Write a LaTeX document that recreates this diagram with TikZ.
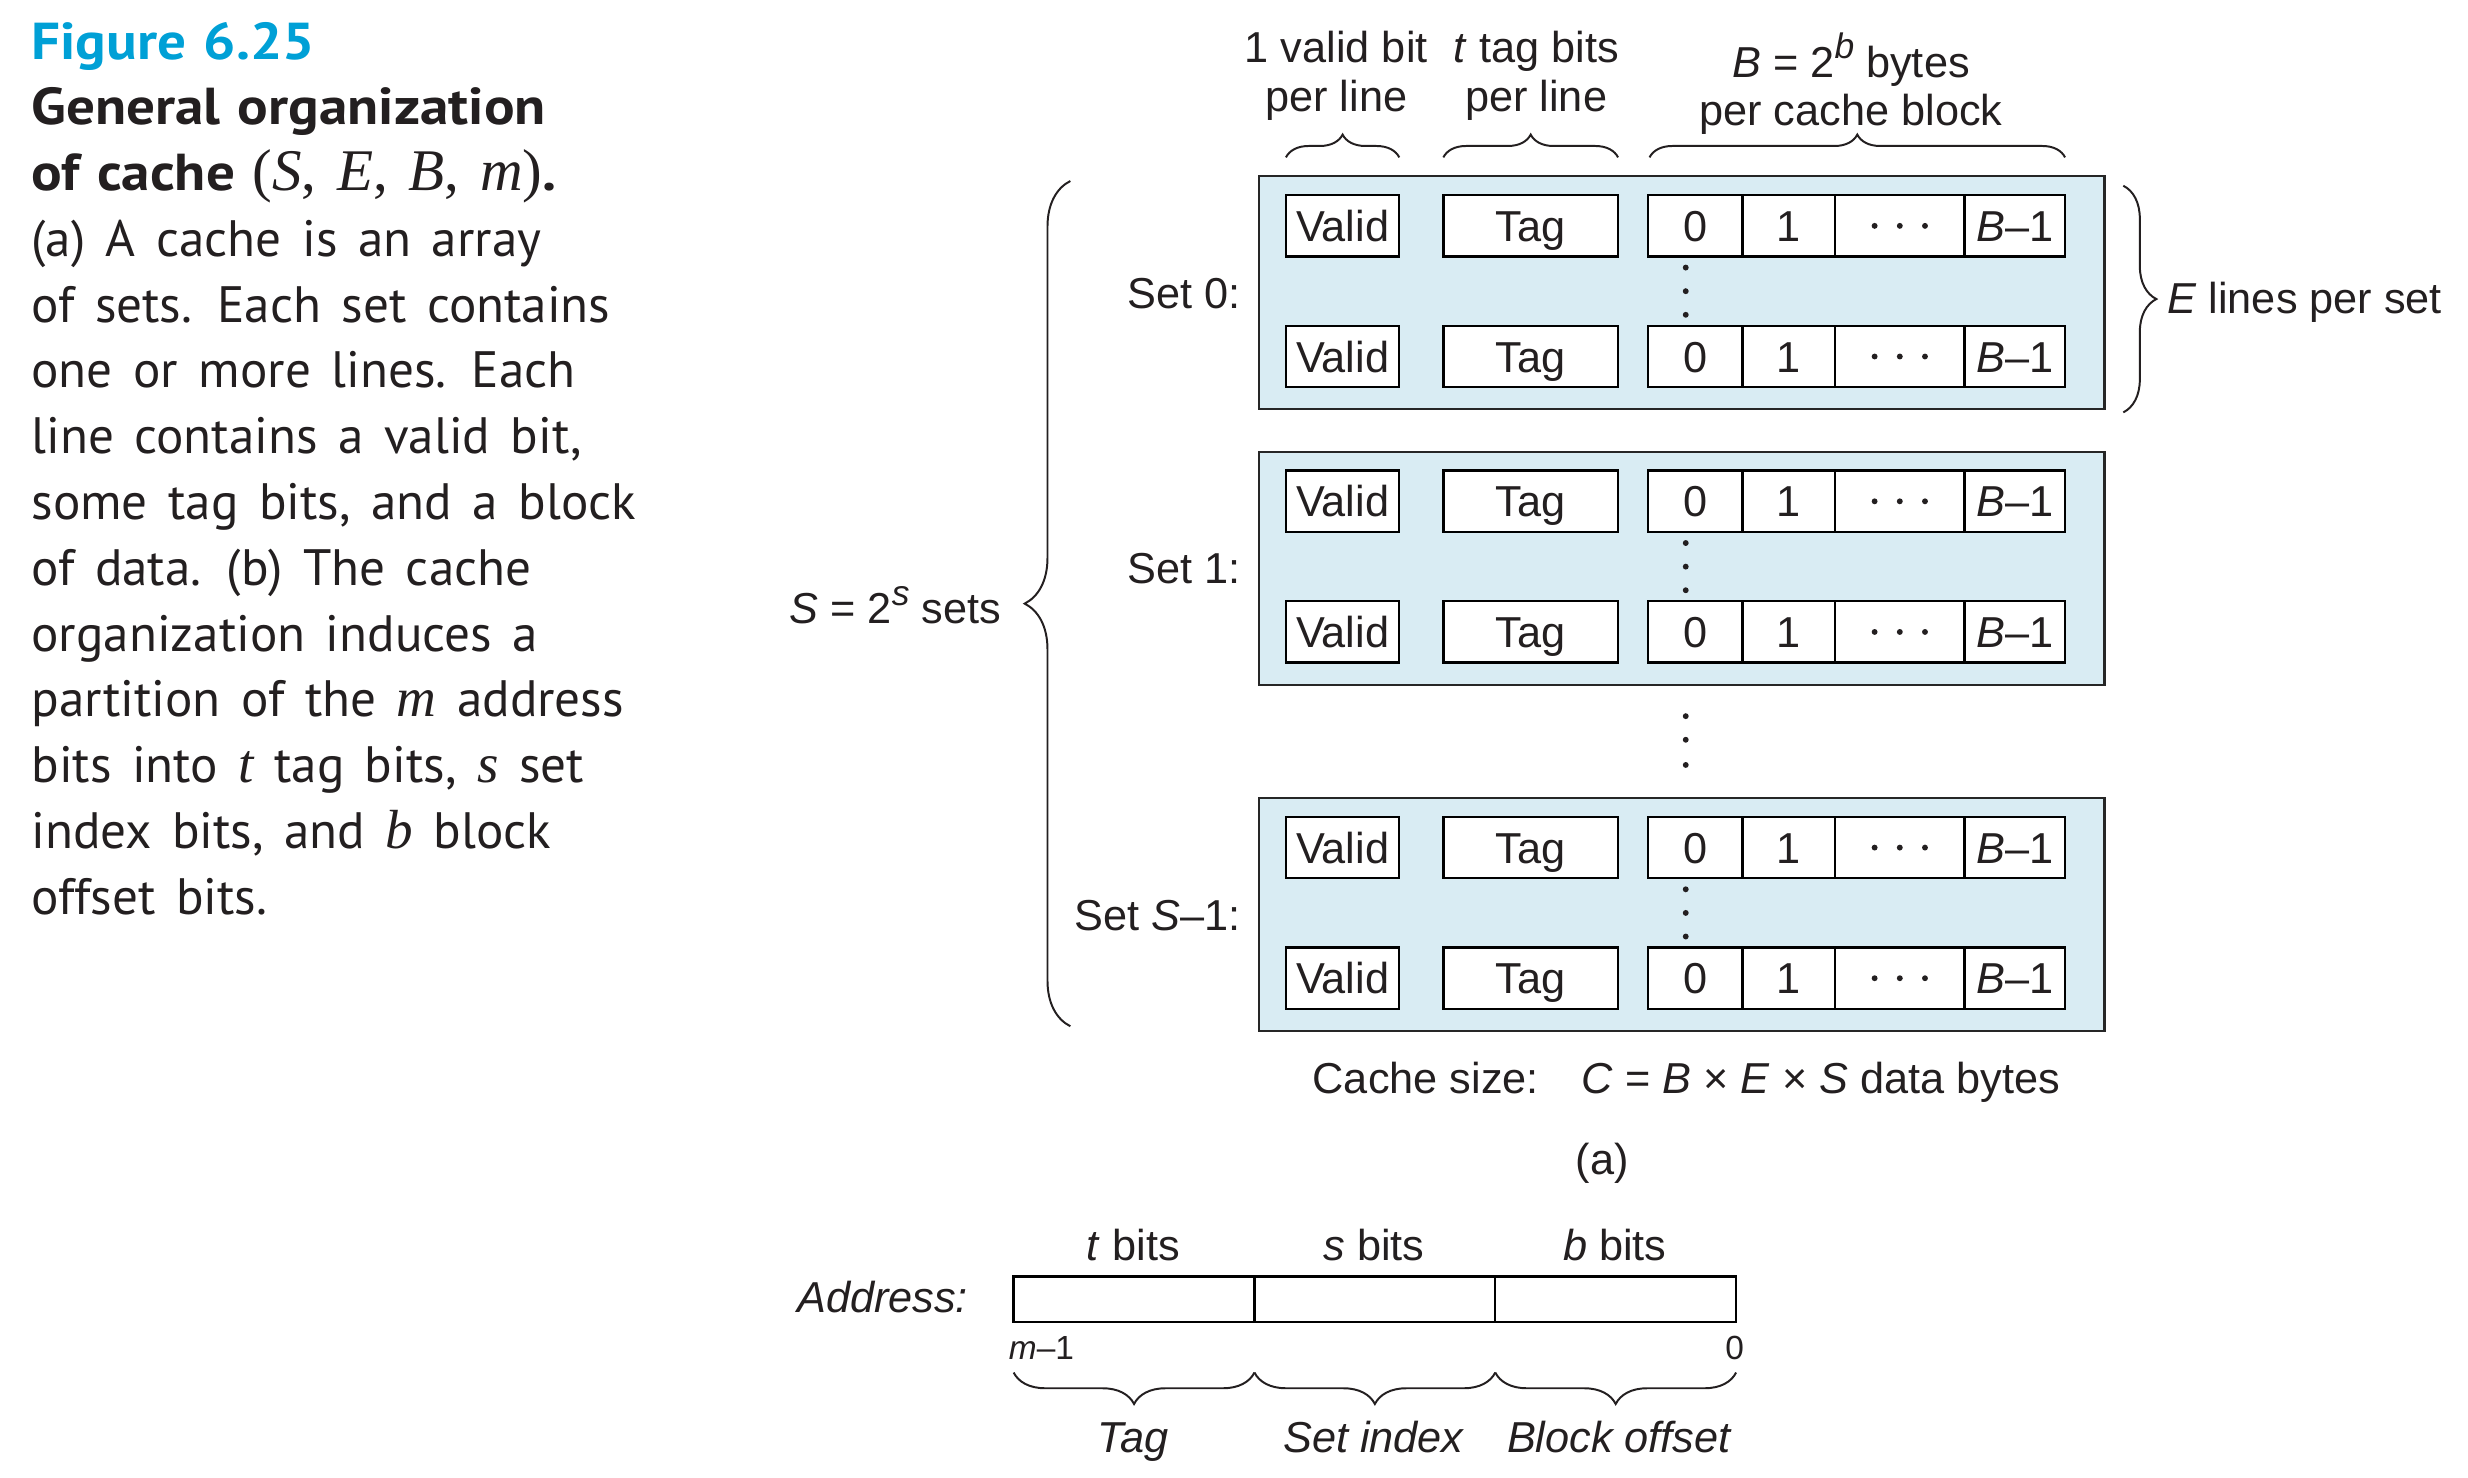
\documentclass[tikz,border=0pt]{standalone}
\usepackage{fontspec}
\setmainfont{Liberation Sans}
\newfontfamily\capfont[WordSpace=1.5]{PT Sans}
\newfontfamily\capboldfam[FakeStretch=1.1,WordSpace=1.2]{PT Sans}
\newfontfamily\serifit[WordSpace=1.4]{Liberation Serif}
\usetikzlibrary{decorations.pathreplacing}
\definecolor{setfill}{RGB}{217,236,243}
\definecolor{figcyan}{RGB}{0,160,214}
\definecolor{ink}{RGB}{35,31,32}
\newcommand{\supit}[1]{\raisebox{0.8ex}{\fontsize{9}{9}\selectfont\textit{#1}}}
\begin{document}
\begin{tikzpicture}[x=0.4pt,y=-0.4pt,
  every node/.style={inner sep=0pt, outer sep=0pt, text=ink},
  lbl/.style={font=\fontsize{11}{13}\selectfont},
  cellt/.style={lbl, text height=7.9pt, text depth=0pt, anchor=center},
  captxt/.style={font=\capfont\fontsize{13}{16}\selectfont, anchor=base west},
  captbold/.style={font=\capboldfam\bfseries\fontsize{13.2}{16}\selectfont, anchor=base west},
  cellline/.style={draw=black, line width=0.6pt, fill=white},
  setline/.style={draw=black!85, line width=0.6pt, fill=setfill},
  bracedec/.style={decorate, decoration={brace, amplitude=#1}, line width=0.5pt, draw=ink},
  dotf/.style={fill=ink},
]
\useasboundingbox (0,0) rectangle (1568,939);

% ---------- caption ----------
\node[captbold, text=figcyan] (fig) at (20,37.5) {Figure 6.25};
\node[captbold] (c1) at (20,79.3) {General organization};
\node[captbold] (c2) at (20,121.1) {of cache {\serifit\mdseries\fontsize{15}{16}\selectfont(\textit{S}, \textit{E}, \textit{B}, \textit{m})}.};
\node[captxt] (c3) at (20,162.9) {(a) A cache is an array};
\node[captxt] (c4) at (20,204.7) {of sets. Each set contains};
\node[captxt] (c5) at (20,246.5) {one or more lines. Each};
\node[captxt] (c6) at (20,288.3) {line contains a valid bit,};
\node[captxt] (c7) at (20,330.1) {some tag bits, and a block};
\node[captxt] (c8) at (20,371.9) {of data. (b) The cache};
\node[captxt] (c9) at (20,413.7) {organization induces a};
\node[captxt] (c10) at (20,455.5) {partition of the {\serifit\itshape\fontsize{14}{16}\selectfont m} address};
\node[captxt] (c11) at (20,497.3) {bits into {\serifit\itshape\fontsize{14}{16}\selectfont t} tag bits, {\serifit\itshape\fontsize{14}{16}\selectfont s} set};
\node[captxt] (c12) at (20,539.1) {index bits, and {\serifit\itshape\fontsize{14}{16}\selectfont b} block};
\node[captxt] (c13) at (20,580.9) {offset bits.};

% ---------- sets ----------
\foreach \ty/\nm/\lab in {112/sa/{Set 0:},287/sb/{Set 1:},507/sc/{Set \textit{S}–1:}} {
  \draw[setline] (800,\ty) rectangle (1337,\ty+148);
  \node[lbl, anchor=base east] (\nm lab) at (788,\ty+84) {\lab};
  \foreach \r/\rn in {12/a,95/b} {
    \draw[cellline] (817,\ty+\r) rectangle (889,\ty+\r+39);
    \draw[cellline] (917,\ty+\r) rectangle (1028,\ty+\r+39);
    \draw[cellline] (1047,\ty+\r) rectangle (1312,\ty+\r+39);
    \draw[line width=0.6pt] (1107,\ty+\r) -- (1107,\ty+\r+39)
                            (1166,\ty+\r) -- (1166,\ty+\r+39)
                            (1248,\ty+\r) -- (1248,\ty+\r+39);
    \node[cellt] (\nm\rn v) at (853,\ty+\r+19.5) {Valid};
    \node[cellt] (\nm\rn t) at (972.5,\ty+\r+19.5) {Tag};
    \node[cellt] (\nm\rn z) at (1077,\ty+\r+19.5) {0};
    \node[cellt] (\nm\rn o) at (1136.5,\ty+\r+19.5) {1};
    \node[cellt] (\nm\rn l) at (1280,\ty+\r+19.5) {\textit{B}–1};
    \foreach \dx in {-16,0,16}
      \fill[dotf] (1207+\dx,\ty+\r+19.5) circle[radius=0.75pt];
  }
  \foreach \dy in {58,73,88}
    \fill[dotf] (1071,\ty+\dy) circle[radius=0.75pt];
}
% dots between sets
\foreach \yy in {455,470,486}
  \fill[dotf] (1071,\yy) circle[radius=0.75pt];

% ---------- top braces and labels ----------
\draw[bracedec=5.8pt] (817,100) -- (889,100);
\draw[bracedec=5.8pt] (917,100) -- (1028,100);
\draw[bracedec=5.8pt] (1048,100) -- (1312,100);
\node[lbl, anchor=base] (vb1) at (849,40) {1 valid bit};
\node[lbl, anchor=base] (vb2) at (849,71) {per line};
\node[lbl, anchor=base] (tb1) at (976,40) {\textit{t} tag bits};
\node[lbl, anchor=base] (tb2) at (976,71) {per line};
\node[lbl, anchor=base] (bb1) at (1176,49) {\textit{B} = 2\supit{b} bytes};
\node[lbl, anchor=base] (bb2) at (1176,80) {per cache block};

% ---------- side braces ----------
\draw[bracedec=8.4pt] (1349,118) -- (1349,262);
\node[lbl, anchor=base west] (elines) at (1377,199) {\textit{E} lines per set};
\draw[bracedec=11.6pt] (680,652) -- (680,115);
\node[lbl, anchor=base east] (ssets) at (636,396) {\textit{S} = 2\supit{s} sets};

% ---------- cache size ----------
\node[lbl, anchor=base west] (csize) at (834,695) {Cache size:};
\node[lbl, anchor=base west] (cform) at (1005,695) {\textit{C} = \textit{B} × \textit{E} × \textit{S} data bytes};
\node[lbl, anchor=base] (capa) at (1018,746) {(a)};

% ---------- address ----------
\draw[line width=0.6pt, draw=black] (644,811) rectangle (1103,840);
\draw[line width=0.6pt] (797,811) -- (797,840) (950,811) -- (950,840);
\node[lbl, anchor=base east] (addr) at (615,834) {\textit{Address:}};
\node[lbl, anchor=base] (tbits) at (720,801) {\textit{t} bits};
\node[lbl, anchor=base] (sbits) at (873,801) {\textit{s} bits};
\node[lbl, anchor=base] (bbits) at (1026,801) {\textit{b} bits};
\node[font=\fontsize{8.5}{10}\selectfont, anchor=base west] (mm1) at (641,864) {\textit{m}–1};
\node[font=\fontsize{8.5}{10}\selectfont, anchor=base east] (zero) at (1108,864) {0};
\draw[bracedec=8pt] (797,872) -- (644,872);
\draw[bracedec=8pt] (950,872) -- (797,872);
\draw[bracedec=8pt] (1103,872) -- (950,872);
\node[lbl, anchor=base] (ltag) at (720,923) {\textit{Tag}};
\node[lbl, anchor=base] (lset) at (873,923) {\textit{Set index}};
\node[lbl, anchor=base] (lblk) at (1029,923) {\textit{Block offset}};
\end{tikzpicture}
\end{document}
